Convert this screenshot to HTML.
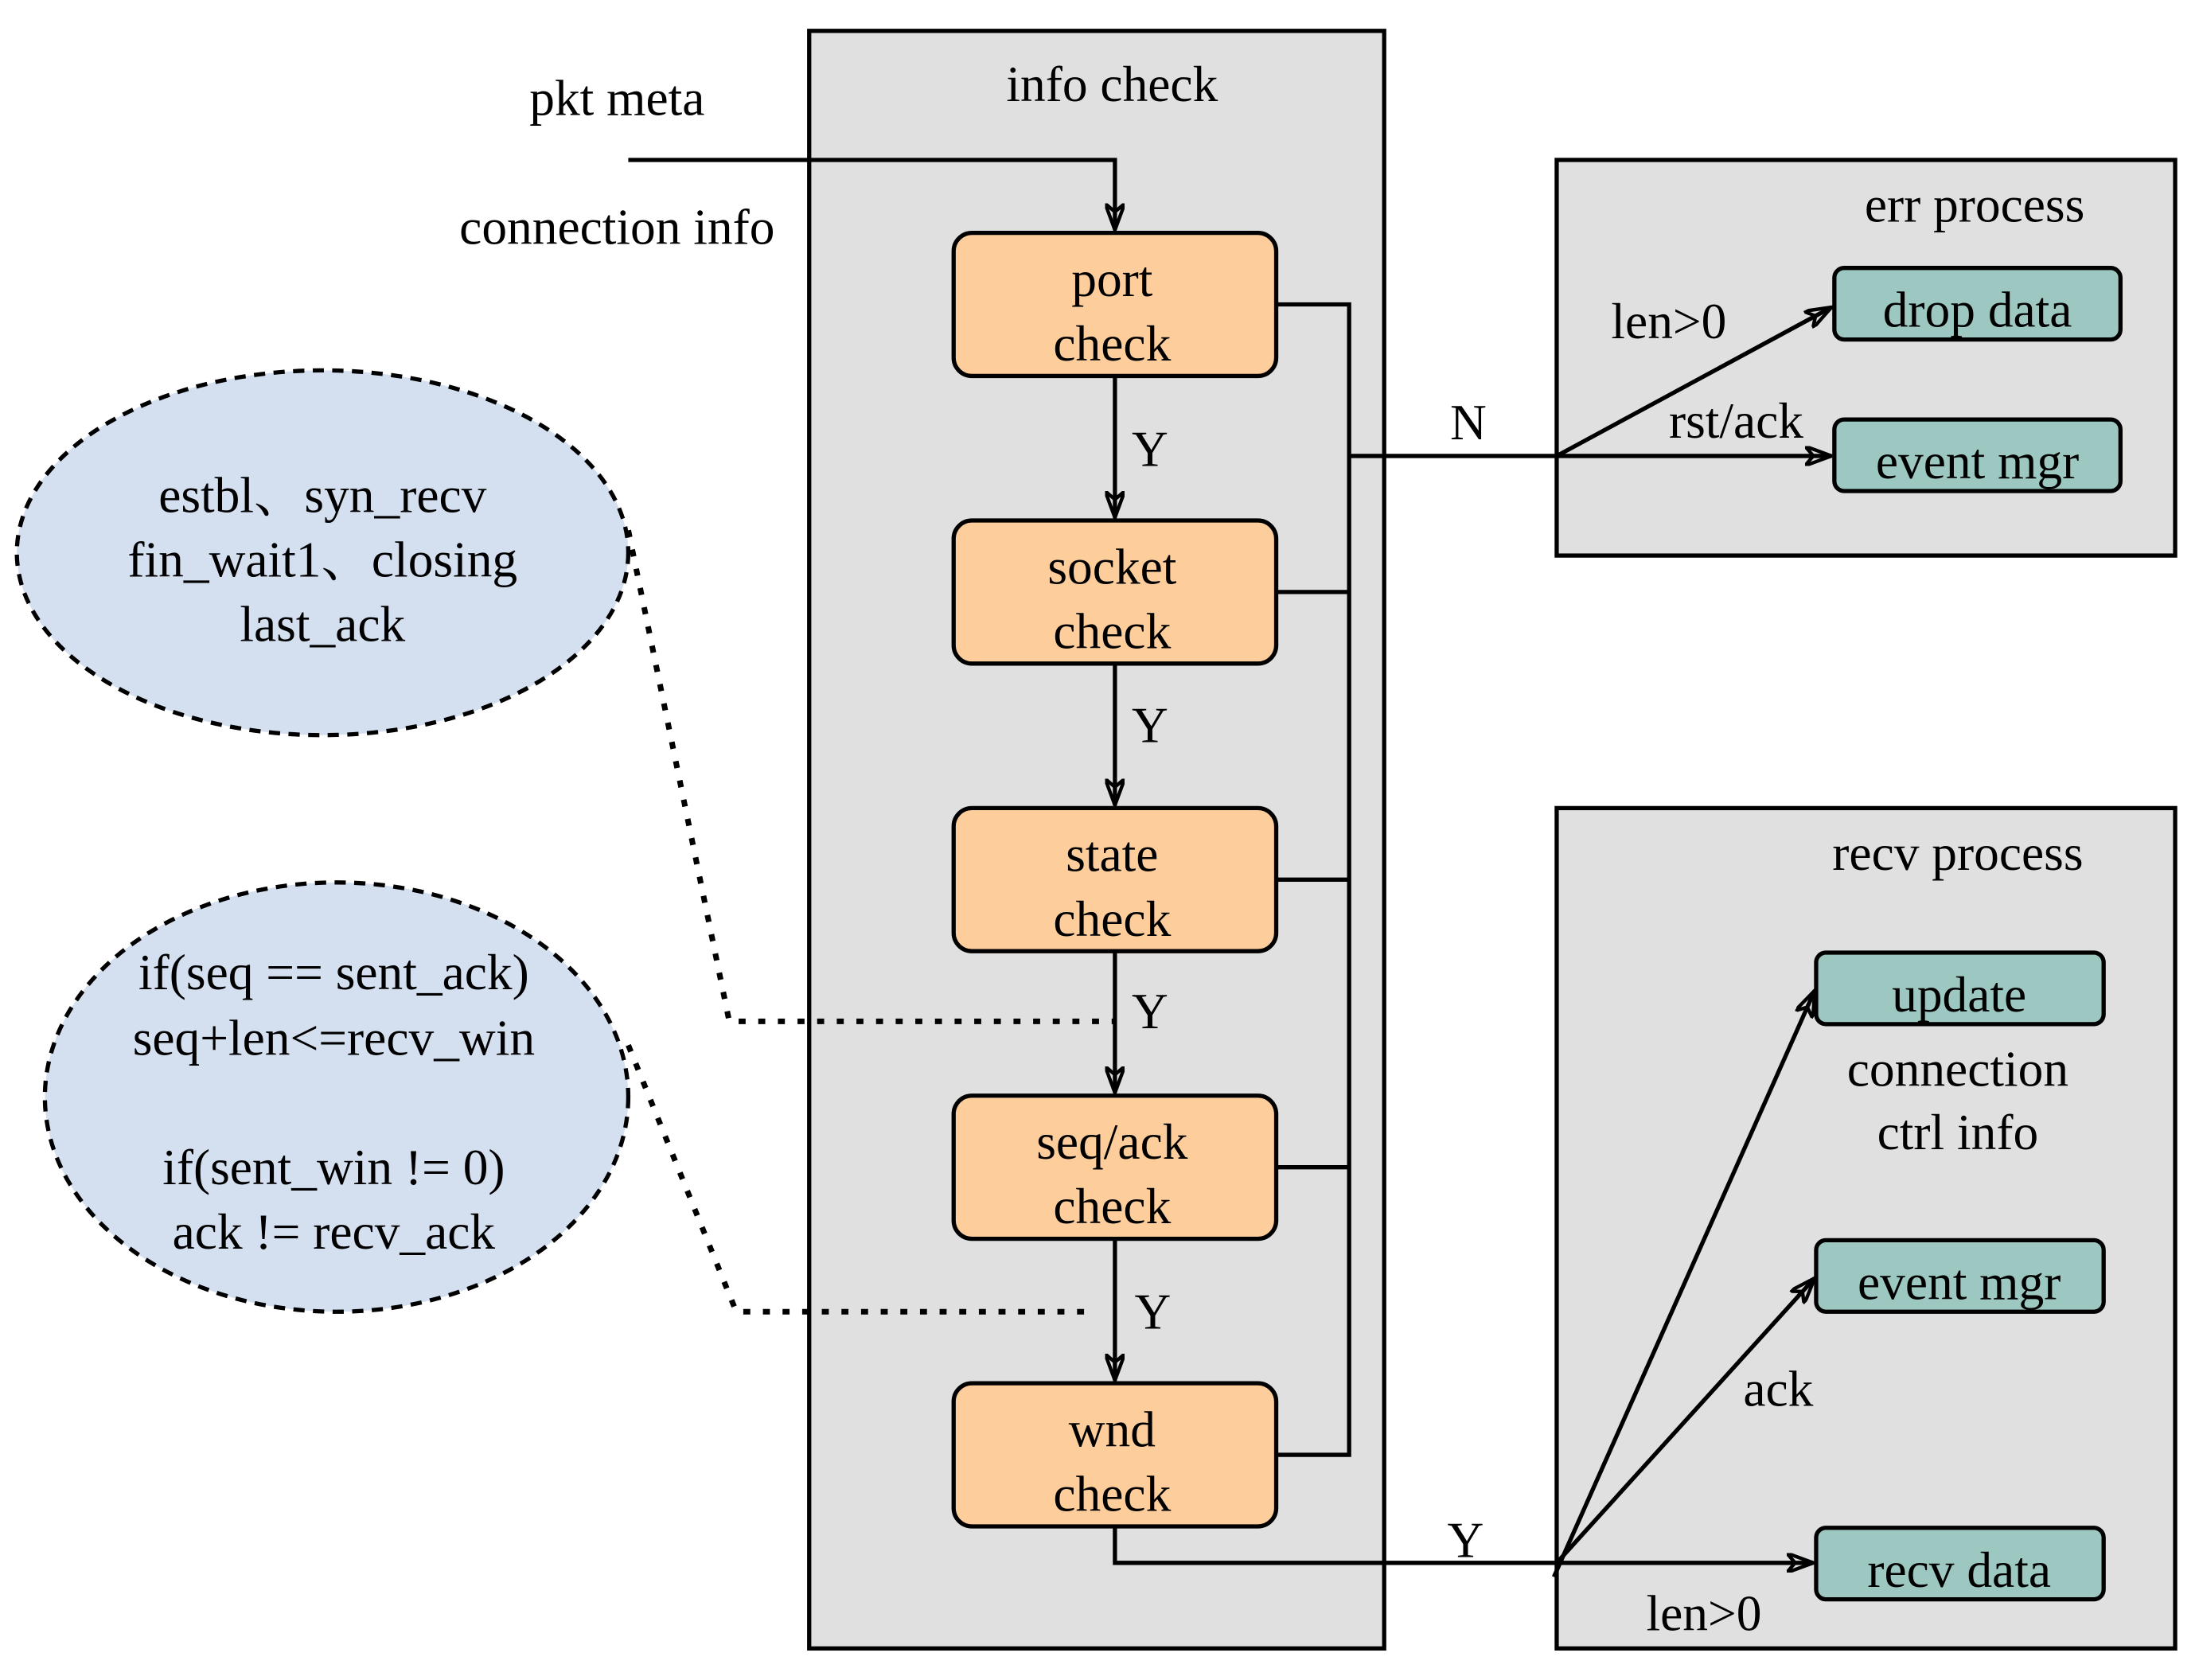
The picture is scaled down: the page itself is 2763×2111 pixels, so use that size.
<!DOCTYPE html>
<html><head><meta charset="utf-8"><style>
html,body{margin:0;padding:0;background:#fff}
svg{display:block}
text{font-family:"Liberation Serif","Noto Serif CJK SC",serif;font-size:36px;fill:#000;text-anchor:middle}
</style></head><body>
<svg width="2763" height="2111" viewBox="0 0 1568 1197.5" preserveAspectRatio="none" xmlns="http://www.w3.org/2000/svg">
<defs>
<marker id="a" viewBox="0 0 20 14" refX="19" refY="7" markerWidth="20" markerHeight="14" markerUnits="userSpaceOnUse" orient="auto">
<path d="M0,0 L19,7 L0,14 L6,7 Z" fill="none" stroke="#000" stroke-width="2.5"/>
</marker>
</defs>
<g stroke="#000" stroke-width="3">
<rect x="577" y="22" width="410" height="1153" fill="#e0e0e0"/>
<rect x="1110" y="114" width="441" height="282" fill="#e0e0e0"/>
<rect x="1110" y="576" width="441" height="599" fill="#e0e0e0"/>
<ellipse cx="230" cy="394" rx="218" ry="130" fill="#d4dff0" stroke-dasharray="8,6"/>
<ellipse cx="240" cy="782" rx="208" ry="153" fill="#d4dff0" stroke-dasharray="8,6"/>
<g fill="#fdcd9c">
<rect x="680" y="166" width="230" height="102" rx="13"/>
<rect x="680" y="371" width="230" height="102" rx="13"/>
<rect x="680" y="576" width="230" height="102" rx="13"/>
<rect x="680" y="781" width="230" height="102" rx="13"/>
<rect x="680" y="986" width="230" height="102" rx="13"/>
</g>
<g fill="#9dc8c1">
<rect x="1308" y="191" width="204" height="51" rx="7"/>
<rect x="1308" y="299" width="204" height="51" rx="7"/>
<rect x="1295" y="679" width="205" height="51" rx="7"/>
<rect x="1295" y="884" width="205" height="51" rx="7"/>
<rect x="1295" y="1089" width="205" height="51" rx="7"/>
</g>
<g fill="none">
<polyline points="448,114 795,114 795,164" marker-end="url(#a)"/>
<line x1="795" y1="268" x2="795" y2="369" marker-end="url(#a)"/>
<line x1="795" y1="473" x2="795" y2="574" marker-end="url(#a)"/>
<line x1="795" y1="678" x2="795" y2="779" marker-end="url(#a)"/>
<line x1="795" y1="883" x2="795" y2="984" marker-end="url(#a)"/>
<polyline points="910,217 962,217 962,1037 910,1037"/>
<line x1="910" y1="422" x2="962" y2="422"/>
<line x1="910" y1="627" x2="962" y2="627"/>
<line x1="910" y1="832" x2="962" y2="832"/>
<line x1="962" y1="325" x2="1110" y2="325"/>
<line x1="1110" y1="325" x2="1306" y2="219" marker-end="url(#a)"/>
<line x1="1110" y1="325" x2="1306" y2="325" marker-end="url(#a)"/>
<polyline points="795,1088 795,1114 1293,1114" marker-end="url(#a)"/>
<line x1="1108" y1="1124" x2="1294" y2="706" marker-end="url(#a)"/>
<line x1="1110" y1="1114" x2="1294" y2="911" marker-end="url(#a)"/>
<g stroke-width="4" stroke-dasharray="5,9">
<polyline points="448,378 520,728 795,728"/>
<polyline points="448,745 525,935 780,935"/>
</g>
</g>
</g>
<text x="793" y="72">info check</text>
<text x="440" y="82">pkt meta</text>
<text x="440" y="174">connection info</text>
<text x="793" y="211">port</text><text x="793" y="257">check</text>
<text x="793" y="416">socket</text><text x="793" y="462">check</text>
<text x="793" y="621">state</text><text x="793" y="667">check</text>
<text x="793" y="826">seq/ack</text><text x="793" y="872">check</text>
<text x="793" y="1031">wnd</text><text x="793" y="1077">check</text>
<text x="820" y="332">Y</text><text x="820" y="529">Y</text>
<text x="820" y="733">Y</text><text x="822" y="947">Y</text>
<text x="1047" y="313">N</text><text x="1045" y="1110">Y</text>
<text x="1408" y="158">err process</text>
<text x="1190" y="241">len&gt;0</text>
<text x="1238" y="312">rst/ack</text>
<text x="1410" y="233">drop data</text>
<text x="1410" y="341">event mgr</text>
<text x="1396" y="620">recv process</text>
<text x="1397" y="721">update</text>
<text x="1396" y="774">connection</text>
<text x="1396" y="819">ctrl info</text>
<text x="1397" y="926">event mgr</text>
<text x="1268" y="1002">ack</text>
<text x="1397" y="1131">recv data</text>
<text x="1215" y="1162">len&gt;0</text>
<text x="230" y="365">estbl、syn_recv</text>
<text x="230" y="411">fin_wait1、closing</text>
<text x="230" y="457">last_ack</text>
<text x="238" y="705">if(seq == sent_ack)</text>
<text x="238" y="752">seq+len&lt;=recv_win</text>
<text x="238" y="844">if(sent_win != 0)</text>
<text x="238" y="890">ack != recv_ack</text>
</svg>
</body></html>
